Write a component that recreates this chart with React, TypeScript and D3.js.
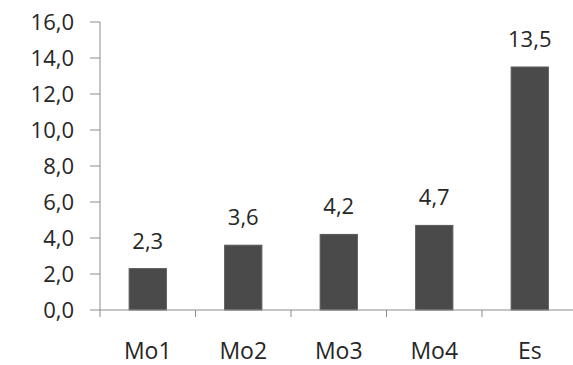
import React from "react";
import { scaleLinear, scaleBand, range } from "d3";

const categories = ["Mo1", "Mo2", "Mo3", "Mo4", "Es"];
const values = [2.3, 3.6, 4.2, 4.7, 13.5];
const yTicks = [0, 2, 4, 6, 8, 10, 12, 14, 16];

const width = 573;
const height = 365;
const fmt = (v: number, d: number) => v.toFixed(d).replace(".", ",");

const App = () => {
  const x0 = 100;
  const yScale = scaleLinear().domain([0, 16]).range([310, 22]);
  const xScale = scaleBand<string>()
    .domain(categories)
    .range([x0, 577.5])
    .paddingInner(0.61)
    .paddingOuter(0.305);
  const step = xScale.step();
  const font = "'Open Sans', sans-serif";
  const textColor = "#262626";

  const bars = categories.map((c, i) => (
    <g key={c}>
      <rect
        x={xScale(c)}
        y={yScale(values[i])}
        width={xScale.bandwidth()}
        height={yScale(0) - yScale(values[i])}
        fill="#4a4a4a"
        stroke="#5a5a5a"
        strokeWidth={1}
      />
      <text
        x={(xScale(c) as number) + xScale.bandwidth() / 2}
        y={yScale(values[i]) - 20}
        textAnchor="middle"
        fontSize={22}
        fill={textColor}
        fontFamily={font}
      >
        {fmt(values[i], 1)}
      </text>
      <text
        x={(xScale(c) as number) + xScale.bandwidth() / 2}
        y={359}
        textAnchor="middle"
        fontSize={23}
        fill={textColor}
        fontFamily={font}
      >
        {c}
      </text>
    </g>
  ));

  const yAxis = yTicks.map((t) => (
    <g key={t}>
      <line x1={90} x2={x0} y1={yScale(t)} y2={yScale(t)} stroke="#8c8c8c" />
      <text
        x={74}
        y={yScale(t)}
        dy="0.36em"
        textAnchor="end"
        fontSize={22}
        fill={textColor}
        fontFamily={font}
      >
        {fmt(t, 1)}
      </text>
    </g>
  ));

  const xTicks = range(categories.length).map((i) => (
    <line
      key={i}
      x1={x0 + i * step}
      x2={x0 + i * step}
      y1={yScale(0)}
      y2={yScale(0) + 7}
      stroke="#8c8c8c"
    />
  ));

  return (
    <svg
      width={width}
      height={height}
      viewBox={`0 0 ${width} ${height}`}
      style={{ position: "absolute", left: 0, top: 0, background: "#fff" }}
    >
      {bars}
      <line x1={x0} x2={x0} y1={yScale(16)} y2={yScale(0)} stroke="#8c8c8c" />
      <line x1={x0} x2={width} y1={yScale(0)} y2={yScale(0)} stroke="#8c8c8c" />
      {yAxis}
      {xTicks}
    </svg>
  );
};

export default App;
